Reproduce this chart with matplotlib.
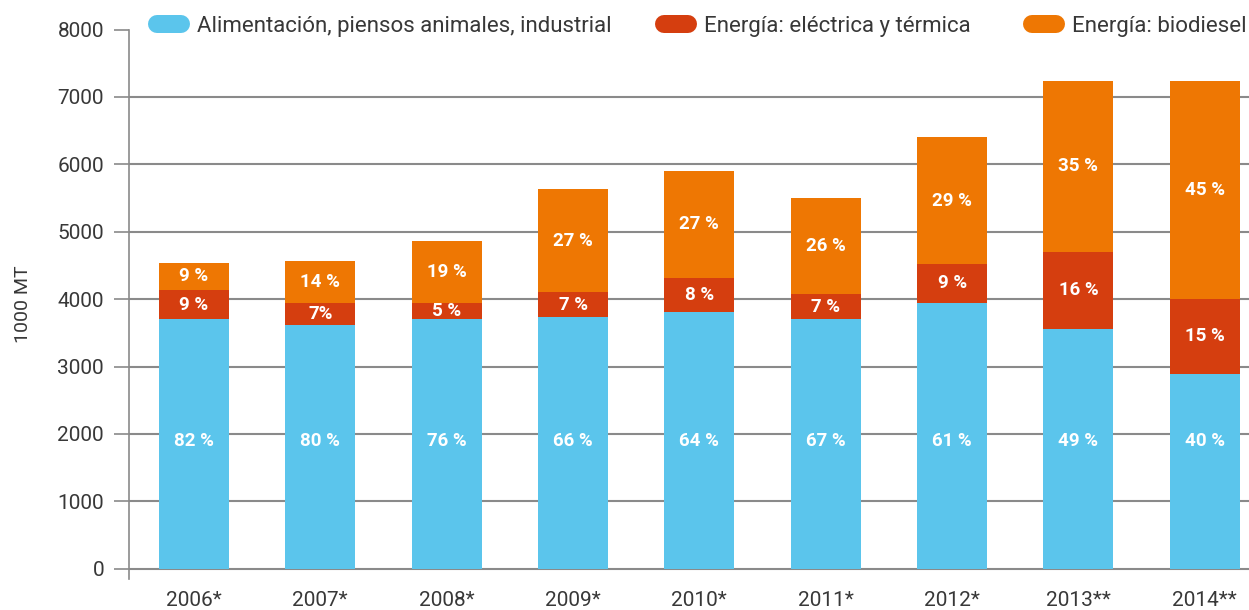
import matplotlib
matplotlib.use("Agg")
import matplotlib.pyplot as plt
from matplotlib import font_manager
from matplotlib.lines import Line2D
import numpy as np

years = ["2006*", "2007*", "2008*", "2009*", "2010*", "2011*", "2012*", "2013**", "2014**"]
food = [3698, 3619, 3711, 3733, 3812, 3698, 3941, 3553, 2896]
power = [440, 327, 235, 371, 500, 371, 584, 1152, 1104]
biodiesel = [396, 618, 920, 1531, 1593, 1426, 1875, 2528, 3233]
food_pct = ["82 %", "80 %", "76 %", "66 %", "64 %", "67 %", "61 %", "49 %", "40 %"]
power_pct = ["9 %", "7%", "5 %", "7 %", "8 %", "7 %", "9 %", "16 %", "15 %"]
bio_pct = ["9 %", "14 %", "19 %", "27 %", "27 %", "26 %", "29 %", "35 %", "45 %"]
series_names = ["Alimentación, piensos animales, industrial",
                "Energía: eléctrica y térmica",
                "Energía: biodiesel"]
colors = ["#5BC5EC", "#D53E0F", "#EE7703"]

fam = "DejaVu Sans"
for cand in ["Roboto", "Noto Sans"]:
    try:
        font_manager.findfont(cand, fallback_to_default=False)
        fam = cand
        break
    except Exception:
        pass
plt.rcParams["font.family"] = [fam, "DejaVu Sans"]

W, H = 1249, 610
fig = plt.figure(figsize=(W / 100, H / 100), dpi=100)
ax = fig.add_axes([129 / W, 0.0511, 1 - 129 / W, 0.9005])

x = np.arange(len(years))
w = 0.554
ax.set_xlim(-0.514, 8.35)
ax.set_ylim(-150, 8000)

grid_col = "#8a8a8a"
text_col = "#383838"
for g in range(0, 8000, 1000):
    ax.axhline(g, color=grid_col, lw=1.5, zorder=1)

food = np.array(food)
power = np.array(power)
biodiesel = np.array(biodiesel)
ax.bar(x, food, w, color=colors[0], zorder=2, linewidth=0)
ax.bar(x, power, w, bottom=food, color=colors[1], zorder=2, linewidth=0)
ax.bar(x, biodiesel, w, bottom=food + power, color=colors[2], zorder=2, linewidth=0)

lab_kw = dict(ha="center", va="center", color="white", fontsize=13.5, fontweight="bold", zorder=3)
for i in range(len(years)):
    ax.text(x[i], 1900, food_pct[i], **lab_kw)
    ax.text(x[i], food[i] + power[i] / 2, power_pct[i], **lab_kw)
    ax.text(x[i], food[i] + power[i] + biodiesel[i] / 2, bio_pct[i], **lab_kw)

ax.set_yticks(range(0, 8001, 1000))
ax.set_yticklabels([str(v) for v in range(0, 8001, 1000)])
ax.set_xticks(x)
ax.set_xticklabels(years)
ax.tick_params(axis="y", length=11, width=1.2, color=grid_col, labelsize=15, labelcolor=text_col, pad=7)
ax.tick_params(axis="x", length=0, labelsize=15, labelcolor=text_col, pad=9)
for s in ["top", "right", "bottom"]:
    ax.spines[s].set_visible(False)
ax.spines["left"].set_color(grid_col)
ax.spines["left"].set_linewidth(1.2)
ax.set_ylabel("1000 MT", fontsize=14, color=text_col, labelpad=18)

# legend (manual, pill-shaped markers)
pill_left = [148, 655, 1023]
pill_w, pill_h, ly = 42, 18, 24
for i in range(3):
    x0 = (pill_left[i] + pill_h / 2) / W
    x1 = (pill_left[i] + pill_w - pill_h / 2) / W
    yy = 1 - ly / H
    fig.add_artist(Line2D([x0, x1], [yy, yy], transform=fig.transFigure,
                          color=colors[i], lw=pill_h * 0.72, solid_capstyle="round"))
    fig.text((pill_left[i] + 49) / W, 1 - 32 / H, series_names[i], fontsize=16,
             color=text_col, va="baseline", ha="left")

fig.savefig("out.png", dpi=100)
